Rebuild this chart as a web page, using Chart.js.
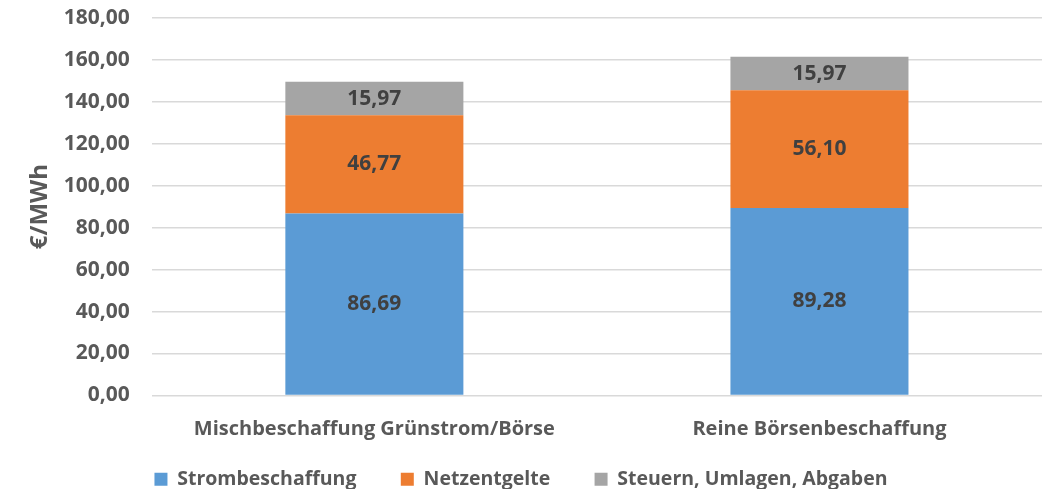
<!DOCTYPE html>
<html>
<head>
<meta charset="utf-8">
<script src="https://cdn.jsdelivr.net/npm/chart.js@4"></script>
<style>
  html, body { margin: 0; padding: 0; background: #fff; }
  #wrap { width: 1046px; height: 489px; }
</style>
</head>
<body>
<div id="wrap"><canvas id="costChart"></canvas></div>
<script>
const categories = ['Mischbeschaffung Grünstrom/Börse', 'Reine Börsenbeschaffung'];
const strombeschaffung = [86.69, 89.28];
const netzentgelte = [46.77, 56.10];
const steuern = [15.97, 15.97];
const seriesNames = ['Strombeschaffung', 'Netzentgelte', 'Steuern, Umlagen, Abgaben'];

const FONT = '"Open Sans", Lato, sans-serif';
const fmt = v => v.toFixed(2).replace('.', ',');

// draws the value in the middle of every bar segment
const segmentLabels = {
  id: 'segmentLabels',
  afterDatasetsDraw(chart) {
    const ctx = chart.ctx;
    ctx.save();
    ctx.font = 'bold 21px ' + FONT;
    ctx.fillStyle = '#404040';
    ctx.textAlign = 'center';
    ctx.textBaseline = 'middle';
    chart.data.datasets.forEach((ds, i) => {
      chart.getDatasetMeta(i).data.forEach((bar, j) => {
        ctx.fillText(fmt(ds.data[j]), bar.x, (bar.y + bar.base) / 2);
      });
    });
    ctx.restore();
  }
};

function draw() {
  const ctx = document.getElementById('costChart').getContext('2d');
  new Chart(ctx, {
    type: 'bar',
    data: {
      labels: categories,
      datasets: [
        { label: seriesNames[0], data: strombeschaffung, backgroundColor: '#5B9BD5' },
        { label: seriesNames[1], data: netzentgelte, backgroundColor: '#ED7D31' },
        { label: seriesNames[2], data: steuern, backgroundColor: '#A5A5A5' }
      ]
    },
    options: {
      responsive: true,
      maintainAspectRatio: false,
      animation: false,
      barPercentage: 0.4,
      categoryPercentage: 1,
      layout: { padding: { left: 0, right: 4, top: 0, bottom: -10 } },
      plugins: {
        tooltip: { enabled: false },
        legend: {
          position: 'bottom',
          labels: {
            color: '#595959',
            font: { family: FONT, size: 19.5, weight: 'bold' },
            boxWidth: 13,
            boxHeight: 13,
            padding: 14,
            // wider gaps between the legend entries, like the original
            generateLabels(chart) {
              const items = Chart.defaults.plugins.legend.labels.generateLabels(chart);
              items.forEach((it, i) => {
                if (i < items.length - 1) it.text += '      ';
              });
              return items;
            }
          }
        }
      },
      scales: {
        x: {
          stacked: true,
          grid: { display: false },
          border: { display: false },
          ticks: {
            color: '#595959',
            font: { family: FONT, size: 20, weight: 'bold' },
            padding: 14
          }
        },
        y: {
          stacked: true,
          min: 0,
          max: 180,
          ticks: {
            stepSize: 20,
            color: '#595959',
            font: { family: FONT, size: 21, weight: 'bold' },
            padding: 5,
            callback: v => fmt(v)
          },
          grid: { color: '#D9D9D9', lineWidth: 1.5, drawTicks: true, tickLength: 17, tickColor: 'rgba(0,0,0,0)' },
          border: { display: false },
          title: {
            display: true,
            text: '€/MWh',
            color: '#595959',
            font: { family: FONT, size: 24, weight: 'bold' },
            padding: { top: 26, bottom: 4 }
          }
        }
      }
    },
    plugins: [segmentLabels]
  });
}

Promise.all([
  document.fonts.load('bold 21px "Open Sans"'),
  document.fonts.load('bold 24px "Open Sans"')
]).then(draw, draw);
</script>
</body>
</html>
